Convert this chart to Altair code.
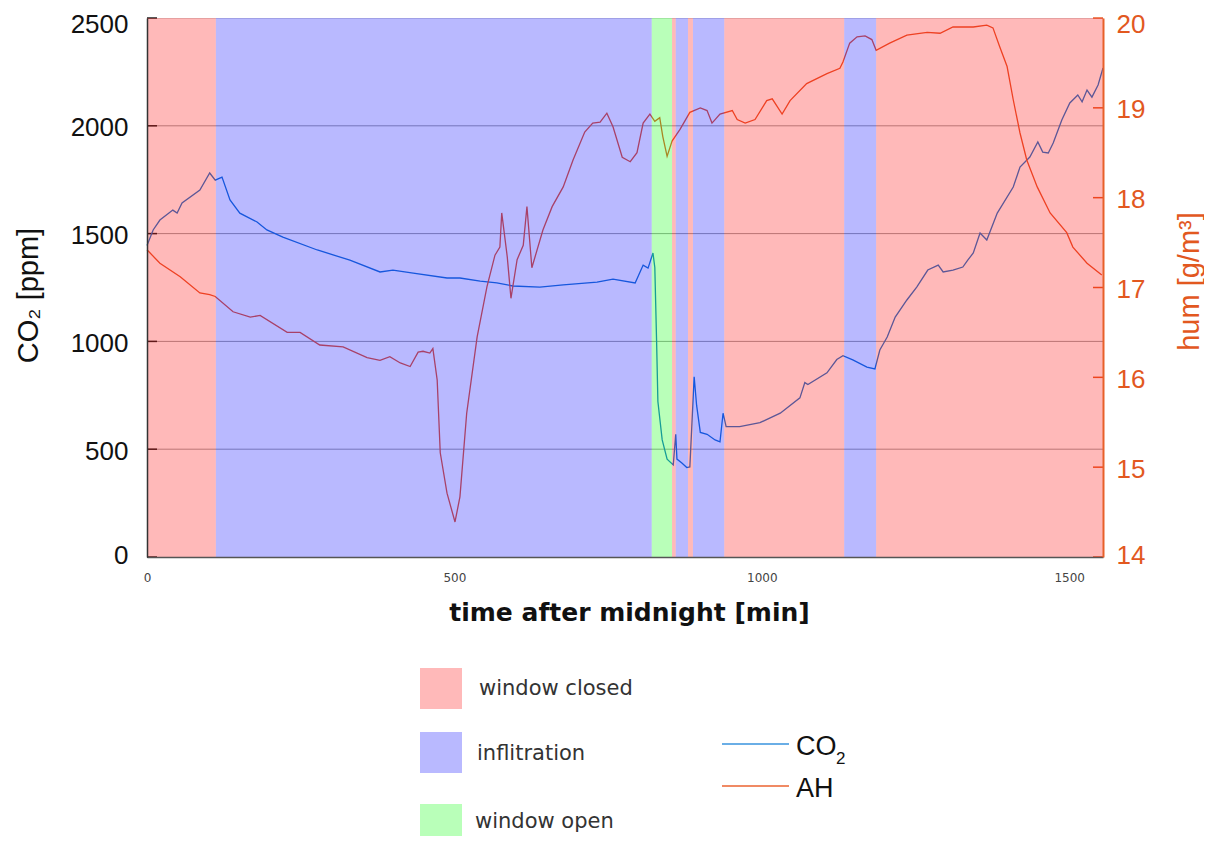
import altair as alt
import pandas as pd

# ---------------- data ----------------
# CO2 concentration: minutes after midnight, ppm
co2_t = [0, 10, 21, 42, 49, 57, 86, 102, 111, 122, 135, 151, 179, 195, 221, 277, 330,
         379, 400, 433, 488, 509, 542, 569, 595, 639, 677, 732, 758, 794, 802, 807, 815,
         823, 826, 829, 831, 838, 846, 856, 860, 862, 870, 878, 883, 890, 894, 900, 911,
         924, 932, 937, 942, 964, 997, 1030, 1062, 1070, 1075, 1106, 1122, 1132, 1148,
         1171, 1184, 1192, 1204, 1217, 1236, 1252, 1270, 1287, 1295, 1311, 1327, 1335,
         1344, 1355, 1366, 1383, 1409, 1420, 1436, 1449, 1457, 1466, 1474, 1488, 1501,
         1514, 1521, 1529, 1537, 1547, 1555]
co2_v = [1445, 1517, 1563, 1609, 1595, 1642, 1702, 1781, 1748, 1762, 1656, 1595, 1554,
         1517, 1484, 1424, 1377, 1322, 1331, 1317, 1294, 1294, 1280, 1271, 1257, 1252,
         1262, 1275, 1289, 1271, 1322, 1354, 1340, 1410, 1343, 987, 721, 543, 454, 427,
         569, 454, 436, 415, 418, 836, 703, 578, 569, 543, 534, 667, 605, 605, 623, 667,
         738, 809, 800, 854, 916, 934, 914, 881, 872, 960, 1020, 1113, 1192, 1252, 1331,
         1354, 1322, 1331, 1345, 1377, 1410, 1503, 1470, 1595, 1716, 1809, 1855, 1925,
         1878, 1874, 1920, 2027, 2106, 2143, 2111, 2166, 2133, 2189, 2268]

# absolute humidity: minutes after midnight, g/m³
ah_t = [0, 21, 54, 86, 102, 111, 140, 168, 184, 228, 249, 281, 319, 358, 379, 395, 412,
        428, 441, 449, 460, 465, 472, 477, 488, 501, 509, 520, 537, 553, 566, 574, 577,
        586, 592, 602, 612, 618, 626, 644, 659, 677, 693, 712, 725, 737, 748, 758, 773,
        786, 797, 807, 818, 826, 834, 839, 846, 854, 867, 883, 900, 911, 919, 932, 952,
        960, 973, 989, 1008, 1017, 1033, 1046, 1073, 1106, 1127, 1132, 1143, 1155, 1168,
        1179, 1186, 1208, 1236, 1269, 1290, 1311, 1344, 1366, 1376, 1387, 1399, 1409,
        1420, 1431, 1448, 1469, 1496, 1506, 1529, 1553]
ah_v = [17.42, 17.27, 17.12, 16.94, 16.92, 16.90, 16.73, 16.67, 16.69, 16.50, 16.50,
        16.36, 16.34, 16.22, 16.19, 16.23, 16.16, 16.12, 16.28, 16.29, 16.27, 16.32,
        15.97, 15.16, 14.71, 14.39, 14.67, 15.60, 16.45, 17.01, 17.36, 17.45, 17.83,
        17.34, 16.88, 17.31, 17.47, 17.90, 17.22, 17.64, 17.90, 18.12, 18.42, 18.73,
        18.83, 18.84, 18.94, 18.79, 18.45, 18.40, 18.50, 18.83, 18.93, 18.85, 18.89,
        18.68, 18.46, 18.63, 18.76, 18.95, 19.00, 18.97, 18.83, 18.93, 18.97, 18.87,
        18.83, 18.87, 19.08, 19.10, 18.93, 19.08, 19.27, 19.38, 19.44, 19.51, 19.72,
        19.79, 19.80, 19.76, 19.64, 19.72, 19.81, 19.84, 19.83, 19.90, 19.90, 19.92,
        19.89, 19.68, 19.46, 19.09, 18.72, 18.42, 18.12, 17.83, 17.61, 17.45, 17.27,
        17.14]

# ventilation state periods (minutes)
period_start = [0, 112, 821, 854, 860, 880, 888, 939, 1134, 1186]
period_end = [112, 821, 854, 860, 880, 888, 939, 1134, 1186, 1555]
period_state = ["window closed", "inflitration", "window open", "window closed",
                "inflitration", "window closed", "inflitration", "window closed",
                "inflitration", "window closed"]

states = ["window closed", "inflitration", "window open"]
state_colors = ["#ff0000", "#0000ff", "#00ff00"]

co2_ticks = [0, 500, 1000, 1500, 2000, 2500]
hum_ticks = [14, 15, 16, 17, 18, 19, 20]
time_ticks = [0, 500, 1000, 1500]

# ---------------- styling ----------------
W, H = 956, 539
CO2_COLOR = "#1f78d0"
AH_COLOR = "#e85a30"
ORANGE = "#e2581f"
OVERLAY = 0.275

co2_df = pd.DataFrame({"t": co2_t, "v": co2_v})
ah_df = pd.DataFrame({"t": ah_t, "h": ah_v})
per_df = pd.DataFrame({"start": period_start, "end": period_end, "state": period_state})

x_scale = alt.Scale(domain=[0, 1555], nice=False, zero=False)
x_axis = alt.Axis(values=time_ticks, format="d", title="time after midnight [min]", grid=False,
                  ticks=False, labelFontSize=12, labelColor="#444", labelFont="DejaVu Sans",
                  labelPadding=15, labelFlush=False, domainColor="#555", domainWidth=1.5,
                  titleFont="DejaVu Sans", titleFontWeight="bold", titleFontSize=25,
                  titleColor="#111", titleX=482, titleY=55, titleBaseline="middle",
                  titleAlign="center", zindex=1)

left_axis = alt.Axis(orient="left", values=co2_ticks, format="d", grid=False, ticks=False,
                     tickSize=0, labelFont="Liberation Sans", labelFontSize=26,
                     labelColor="#111", labelPadding=19, labelOffset=2,
                     labelFlush=True, labelFlushOffset=9,
                     domainColor="#333", domainWidth=1.5,
                     title="CO₂ [ppm]", titleFont="Liberation Sans", titleFontSize=29,
                     titleFontWeight="normal", titleColor="#111", titleAngle=270,
                     titleX=-119, titleY=277, titleAlign="center", titleBaseline="middle",
                     zindex=1)

right_axis = alt.Axis(orient="right", values=hum_ticks, format="d", grid=False, ticks=False,
                      tickSize=0, labelFont="Liberation Sans", labelFontSize=26,
                      labelColor=ORANGE, labelPadding=13, labelOffset=2,
                      labelFlush=True, labelFlushOffset=9,
                      domainColor="#e8602a", domainWidth=2,
                      title="hum [g/m³]", titleFont="Liberation Sans", titleFontSize=29,
                      titleFontWeight="normal", titleColor=ORANGE, titleAngle=270,
                      titleX=86, titleY=263, titleAlign="center", titleBaseline="middle",
                      zindex=1)

co2_scale = alt.Scale(domain=[0, 2500], nice=False, zero=False)
hum_scale = alt.Scale(domain=[14, 20], nice=False, zero=False)

co2_y = alt.Y("v:Q", scale=co2_scale, axis=left_axis)
hum_y = alt.Y("h:Q", scale=hum_scale, axis=right_axis)

grid = alt.Chart(pd.DataFrame({"v": co2_ticks[1:-1]})).mark_rule(
    color="#777", strokeWidth=1, opacity=0.7
).encode(y=co2_y, x=alt.value(0), x2=alt.value(W))

left_ticks = alt.Chart(pd.DataFrame({"v": co2_ticks})).mark_rule(
    color="#222", strokeWidth=1.5
).encode(y=co2_y, x=alt.value(0), x2=alt.value(10))

co2_line = alt.Chart(co2_df).mark_line(color=CO2_COLOR, strokeWidth=1.3).encode(
    x=alt.X("t:Q", scale=x_scale, axis=x_axis), y=co2_y
)

co2_layer = alt.layer(grid, left_ticks, co2_line)

right_ticks = alt.Chart(pd.DataFrame({"h": hum_ticks})).mark_rule(
    color="#e8602a", strokeWidth=1.5
).encode(y=hum_y, x=alt.value(W - 10), x2=alt.value(W))

ah_line = alt.Chart(ah_df).mark_line(color=AH_COLOR, strokeWidth=1.3).encode(
    x=alt.X("t:Q", scale=x_scale, axis=x_axis), y=hum_y
)

ah_layer = alt.layer(right_ticks, ah_line)

color_enc = alt.Color("state:N", scale=alt.Scale(domain=states, range=state_colors), legend=None)

bands = alt.Chart(per_df).mark_rect(opacity=OVERLAY).encode(
    x=alt.X("start:Q", scale=x_scale, axis=x_axis),
    x2="end:Q",
    y=alt.value(0),
    y2=alt.value(H),
    color=color_enc,
)

# ---------------- custom legend below the plot ----------------
legend_layers = []
sq_top = [650, 714, 786]
txt_y = [671, 736, 804]
txt_x = [332, 330, 328]
for i, s in enumerate(states):
    d = pd.DataFrame({"state": [s]})
    legend_layers.append(
        alt.Chart(d).mark_rect(opacity=OVERLAY).encode(
            x=alt.value(273), x2=alt.value(315),
            y=alt.value(sq_top[i]), y2=alt.value(sq_top[i] + 41),
            color=color_enc,
        )
    )
    legend_layers.append(
        alt.Chart(d).mark_text(align="left", baseline="middle", font="DejaVu Sans",
                               fontSize=21, color="#333").encode(
            x=alt.value(txt_x[i]), y=alt.value(txt_y[i]), text="state:N"
        )
    )

series_names = ["CO", "AH"]
series_colors = ["#6aaee6", "#f08a64"]
line_y = [726, 768]
for i, name in enumerate(series_names):
    d = pd.DataFrame({"name": [name]})
    legend_layers.append(
        alt.Chart(d).mark_rule(color=series_colors[i], strokeWidth=2).encode(
            x=alt.value(575), x2=alt.value(642), y=alt.value(line_y[i])
        )
    )
    legend_layers.append(
        alt.Chart(d).mark_text(align="left", baseline="middle", font="Liberation Sans",
                               fontSize=27, color="#111").encode(
            x=alt.value(649), y=alt.value(line_y[i] + 3), text="name:N"
        )
    )
legend_layers.append(
    alt.Chart(pd.DataFrame({"sub": ["2"]})).mark_text(
        align="left", baseline="middle", font="Liberation Sans", fontSize=17, color="#111"
    ).encode(x=alt.value(689), y=alt.value(741), text="sub:N")
)

chart = alt.layer(co2_layer, ah_layer, bands, *legend_layers).resolve_scale(
    y="independent"
).properties(
    width=W,
    height=H,
    autosize=alt.AutoSizeParams(type="none"),
    padding={"left": 139, "top": 10, "right": 101, "bottom": 279},
).configure_view(stroke="#222", strokeWidth=1).configure(background="white")

chart.save("out.html", embed_options={"renderer": "svg", "actions": False})
